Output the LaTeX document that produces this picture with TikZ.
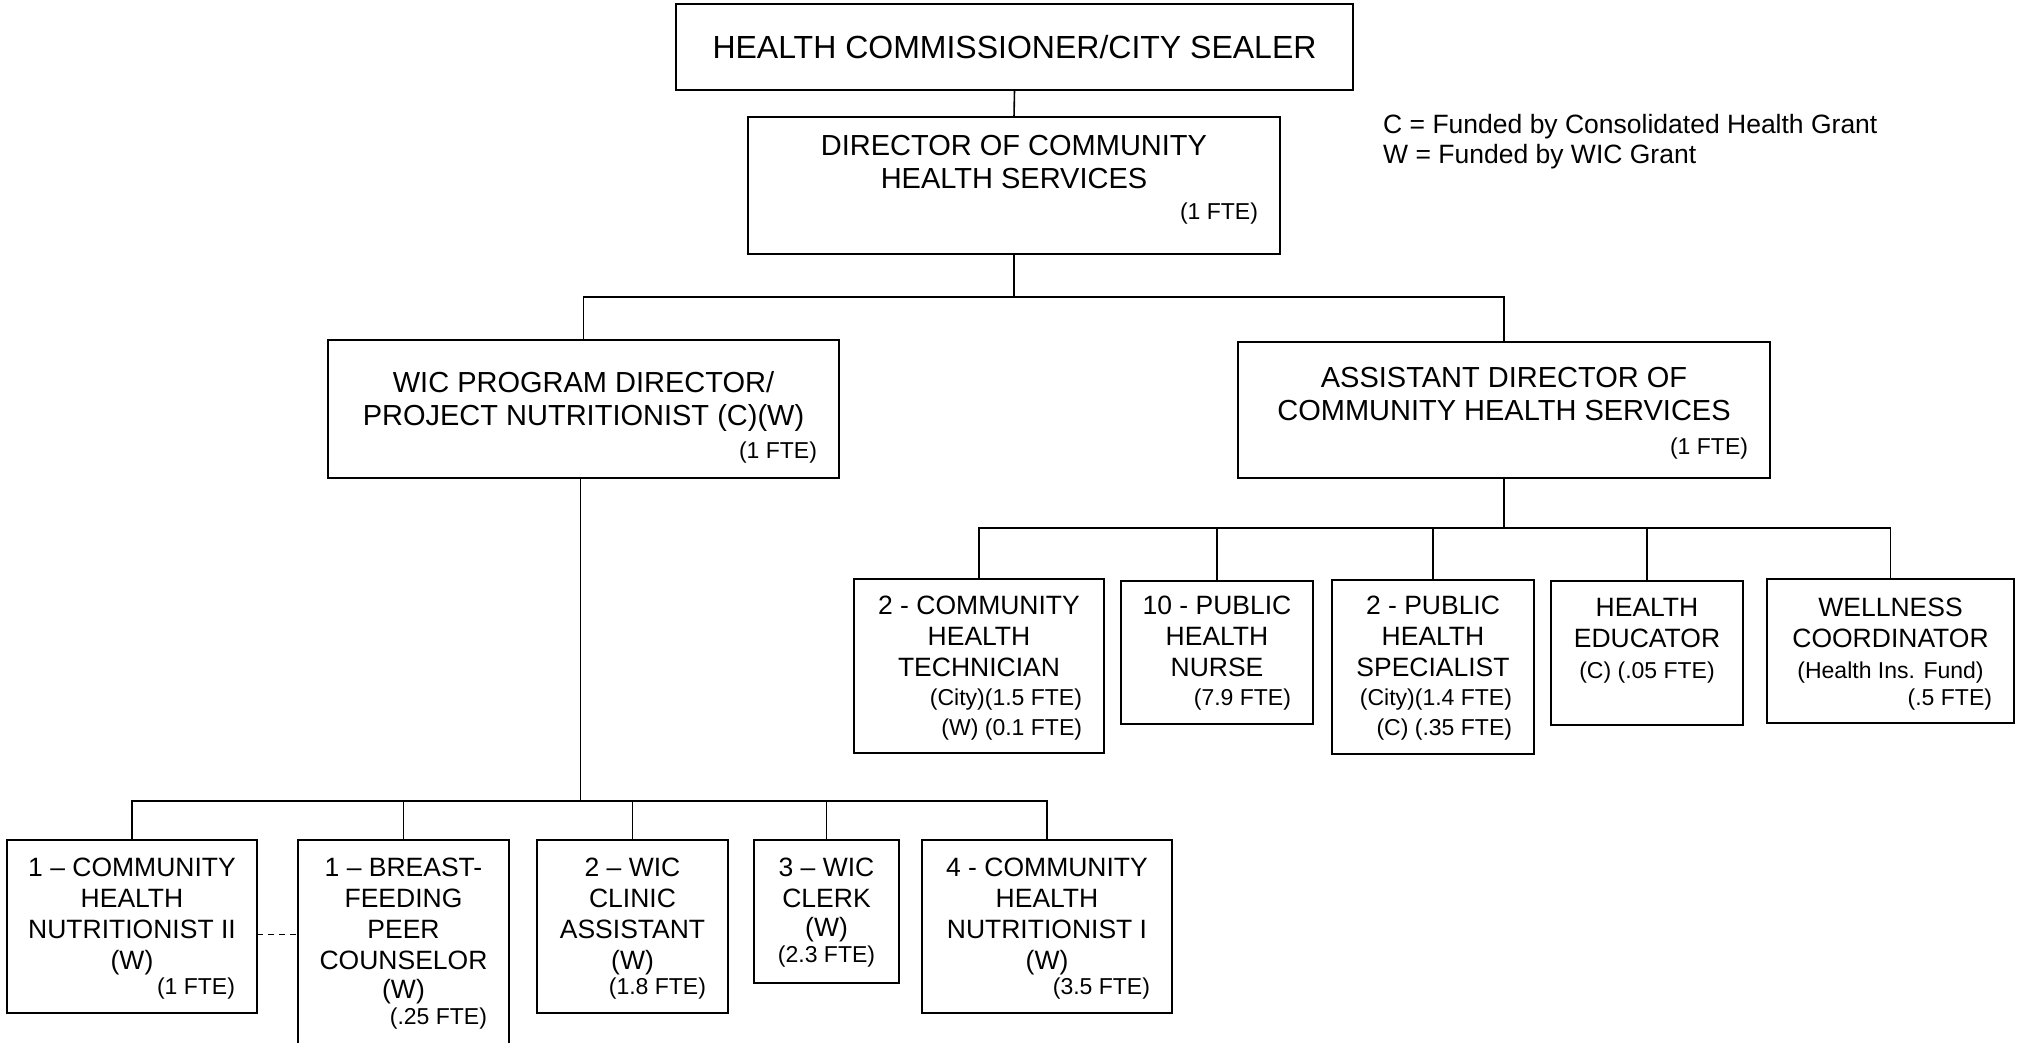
\documentclass[tikz,border=0pt]{standalone}
\usepackage{fontspec}
\setmainfont{Liberation Sans}
\usetikzlibrary{calc}
\newcommand{\fbig}{\fontsize{32}{36}\selectfont}
\newcommand{\fmid}{\fontsize{29}{33}\selectfont}
\newcommand{\fmain}{\fontsize{26.5}{31}\selectfont}
\newcommand{\fsmall}{\fontsize{23}{27}\selectfont}
\newcommand{\rline}[1]{\makebox[\linewidth][r]{\fsmall #1\kern22pt}}
\newcommand{\sline}[1]{{\fsmall #1}}
% width, height, top pad, font, content
\newcommand{\boxtext}[5]{\parbox[c][#2][t]{#1}{\centering#4\vspace*{#3}#5}}
\tikzset{
  orgbox/.style={draw, line width=2pt, inner sep=0pt, outer sep=0pt, anchor=north west},
  conn/.style={line width=1.6pt},
  dashline/.style={line width=1.6pt, dash pattern=on 6pt off 5pt}
}
\begin{document}
\begin{tikzpicture}[x=1pt, y=-1pt]
\path[use as bounding box, fill=white] (0,0) rectangle (2018,1042);

% top levels
\node[orgbox] (hc) at (676,4) {\parbox[c][86pt][c]{677pt}{\centering\fbig HEALTH COMMISSIONER/CITY SEALER}};
\node[orgbox] (dir) at (748,117) {\boxtext{532pt}{137pt}{18pt}{\fmid}{DIRECTOR OF COMMUNITY\\ HEALTH SERVICES\\[-2pt] \rline{(1 FTE)}}};
\node[orgbox] (wic) at (328,340) {\boxtext{511pt}{138pt}{31pt}{\fmid}{WIC PROGRAM DIRECTOR/\\ PROJECT NUTRITIONIST (C)(W)\\[0pt] \rline{(1 FTE)}}};
\node[orgbox] (asst) at (1238,342) {\boxtext{532pt}{136pt}{25pt}{\fmid}{ASSISTANT DIRECTOR OF\\ COMMUNITY HEALTH SERVICES\\[1pt] \rline{(1 FTE)}}};

% legend
\node[anchor=north west, inner sep=0pt, align=left, font=\fontsize{26.5}{30}\selectfont] (legend) at (1383,114) {C = Funded by Consolidated Health Grant\\ W = Funded by WIC Grant};

% middle row
\node[orgbox] (cht) at (854,579) {\boxtext{250pt}{174pt}{17pt}{\fmain}{2 - COMMUNITY\\ HEALTH\\ TECHNICIAN\\[-2pt] \rline{(City)(1.5 FTE)}\\[-1pt] \rline{(W) (0.1 FTE)}}};
\node[orgbox] (phn) at (1121,581) {\boxtext{192pt}{143pt}{15pt}{\fmain}{10 - PUBLIC\\ HEALTH\\ NURSE\\[-2pt] \rline{(7.9 FTE)}}};
\node[orgbox] (phs) at (1332,580) {\boxtext{202pt}{174pt}{16pt}{\fmain}{2 - PUBLIC\\ HEALTH\\ SPECIALIST\\[-2pt] \rline{(City)(1.4 FTE)}\\[-1pt] \rline{(C) (.35 FTE)}}};
\node[orgbox] (he) at (1551,581) {\boxtext{192pt}{144pt}{17pt}{\fmain}{HEALTH\\ EDUCATOR\\ \sline{(C) (.05 FTE)}}};
\node[orgbox] (wc) at (1767,579) {\boxtext{247pt}{144pt}{19pt}{\fmain}{WELLNESS\\ COORDINATOR\\ \sline{(Health Ins. Fund)}\\[-4pt] \rline{(.5 FTE)}}};

% bottom row
\node[orgbox] (chn2) at (7,840) {\boxtext{250pt}{173pt}{18pt}{\fmain}{1 – COMMUNITY\\ HEALTH\\ NUTRITIONIST II\\ (W)\\[-6pt] \rline{(1 FTE)}}};
\node[orgbox] (bf) at (298,840) {\boxtext{211pt}{220pt}{18pt}{\fmain}{1 – BREAST-\\ FEEDING\\ PEER\\ COUNSELOR\\[-2pt] (W)\\[-5pt] \rline{(.25 FTE)}}};
\node[orgbox] (wca) at (537,840) {\boxtext{191pt}{173pt}{18pt}{\fmain}{2 – WIC\\ CLINIC\\ ASSISTANT\\ (W)\\[-6pt] \rline{(1.8 FTE)}}};
\node[orgbox] (clerk) at (754,840) {\boxtext{145pt}{143pt}{18pt}{\fmain}{3 – WIC\\ CLERK\\[-2pt] (W)\\[-5pt] \sline{(2.3 FTE)}}};
\node[orgbox] (chn1) at (922,840) {\boxtext{250pt}{173pt}{18pt}{\fmain}{4 - COMMUNITY\\ HEALTH\\ NUTRITIONIST I\\ (W)\\[-6pt] \rline{(3.5 FTE)}}};

% connectors
\draw[conn] (hc.south) -- (dir.north);
\draw[conn] (dir.south) -- ++(0,43) coordinate (b1);
\draw[conn] (wic.north) |- (b1) -| (asst.north);

\draw[conn] (asst.south) -- ++(0,50) coordinate (b2);
\draw[conn] (cht.north) |- (b2) -| (wc.north);
\draw[conn] (phn.north) -- (phn.north |- b2);
\draw[conn] (phs.north) -- (phs.north |- b2);
\draw[conn] (he.north) -- (he.north |- b2);

\draw[conn] ([xshift=-3pt]wic.south) -- ++(0,323) coordinate (b3);
\draw[conn] (chn2.north) |- (b3) -| (chn1.north);
\draw[conn] (bf.north) -- (bf.north |- b3);
\draw[conn] (wca.north) -- (wca.north |- b3);
\draw[conn] (clerk.north) -- (clerk.north |- b3);

\path ($(chn2.east)+(0,8)$) coordinate (d1);
\draw[dashline] (d1) -- (d1 -| bf.west);
\end{tikzpicture}
\end{document}
